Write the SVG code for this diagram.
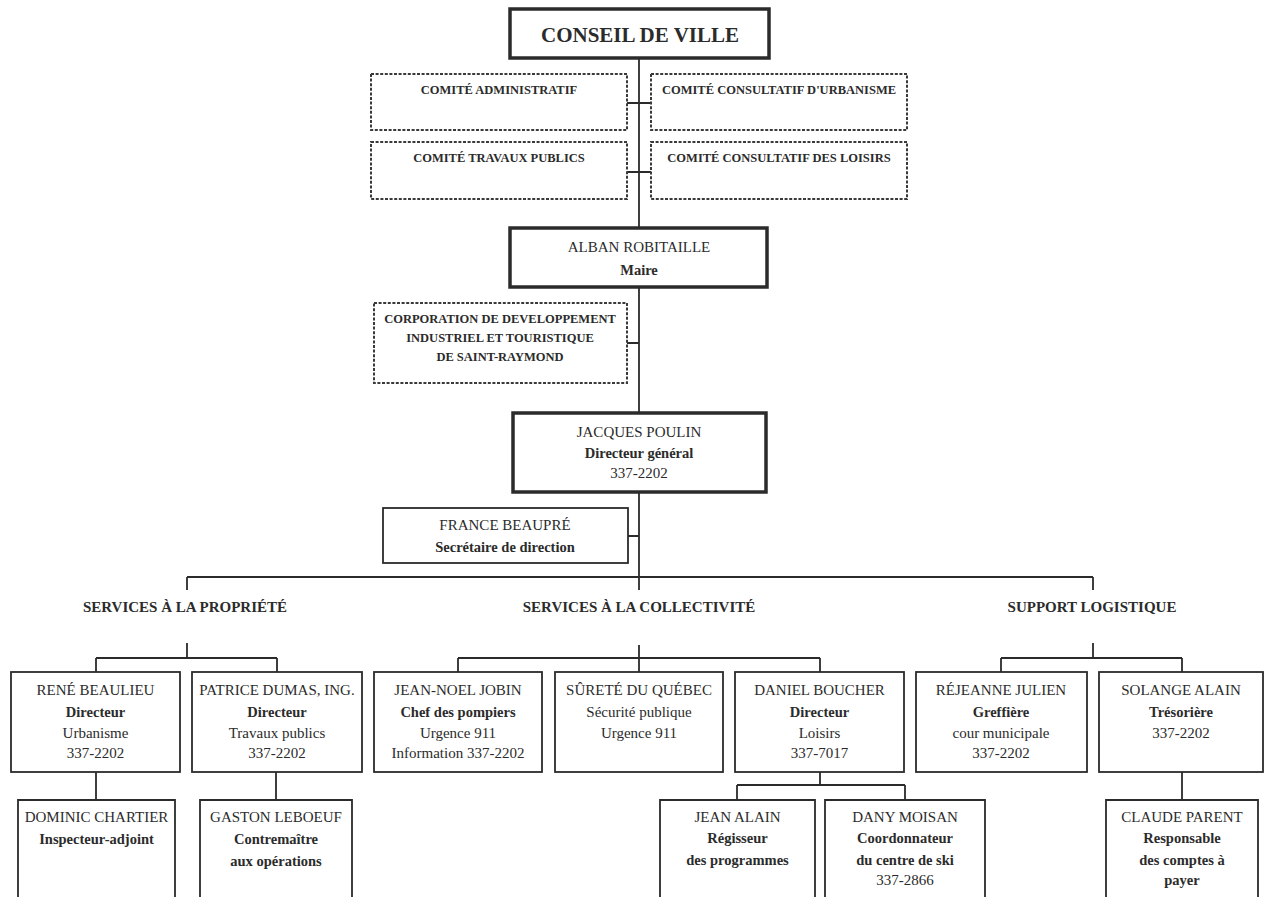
<svg xmlns="http://www.w3.org/2000/svg" width="1265" height="897" viewBox="0 0 1265 897">
<style>
.box{fill:#fff;stroke:#2b2b2b;stroke-width:1.8}
.thick{stroke-width:3.5}
.dash{stroke:#3a3a3a;stroke-width:2;stroke-dasharray:3 1.6}
.t{font-family:"Liberation Serif","Times New Roman",serif;font-size:15px;fill:#2b2b2b;text-anchor:middle}
.b{font-weight:bold;font-size:14.5px}
.c{font-weight:bold;font-size:12.5px}
.s{font-weight:bold;font-size:15px}
.conn path{fill:none;stroke:#2b2b2b;stroke-width:1.8}
</style>
<rect width="1265" height="897" fill="#fff"/>
<g id="connectors" class="conn">
<path d="M639 58V228M639 287V413M639 492V590"/>
<path d="M627 103H651M627 172H651M627 343H639M628 536H639"/>
<path d="M187 577H1093M187 577V590M1093 577V590"/>
<path d="M187 643V658M639 645V672M1093 643V658"/>
<path d="M96 658H277M96 658V672M277 658V672"/>
<path d="M458 658H820M458 658V672M820 658V672"/>
<path d="M1001 658H1182M1001 658V672M1182 658V672"/>
<path d="M96 772V800M276 772V800M1182 772V800"/>
<path d="M820 772V785M737 785H905M737 785V800M905 785V800"/>
</g>
<g id="conseil"><rect class="box thick" x="510" y="9" width="259" height="49"/><text class="t" x="640" y="42" style="font-weight:bold;font-size:21px">CONSEIL DE VILLE</text></g>
<g id="comite-admin"><rect class="box dash" x="371" y="74" width="256" height="56"/><text class="t c" x="499" y="94">COMITÉ ADMINISTRATIF</text></g>
<g id="comite-urbanisme"><rect class="box dash" x="651" y="74" width="256" height="56"/><text class="t c" x="779" y="94">COMITÉ CONSULTATIF D'URBANISME</text></g>
<g id="comite-travaux"><rect class="box dash" x="371" y="142" width="256" height="57"/><text class="t c" x="499" y="162">COMITÉ TRAVAUX PUBLICS</text></g>
<g id="comite-loisirs"><rect class="box dash" x="651" y="142" width="256" height="57"/><text class="t c" x="779" y="162">COMITÉ CONSULTATIF DES LOISIRS</text></g>
<g id="maire"><rect class="box thick" x="510" y="228" width="257" height="59"/><text class="t" x="639" y="252">ALBAN ROBITAILLE</text><text class="t b" x="639" y="275">Maire</text></g>
<g id="corporation"><rect class="box dash" x="374" y="303" width="253" height="80"/><text class="t c" x="500" y="323">CORPORATION DE DEVELOPPEMENT</text><text class="t c" x="500" y="342">INDUSTRIEL ET TOURISTIQUE</text><text class="t c" x="500" y="361">DE SAINT-RAYMOND</text></g>
<g id="directeur-general"><rect class="box thick" x="513" y="413" width="253" height="79"/><text class="t" x="639" y="437">JACQUES POULIN</text><text class="t b" x="639" y="458">Directeur général</text><text class="t" x="639" y="478">337-2202</text></g>
<g id="secretaire"><rect class="box" x="383" y="508" width="245" height="55"/><text class="t" x="505" y="530">FRANCE BEAUPRÉ</text><text class="t b" x="505" y="552">Secrétaire de direction</text></g>
<g id="services-propriete"><text class="t s" x="185" y="612">SERVICES À LA PROPRIÉTÉ</text></g>
<g id="services-collectivite"><text class="t s" x="639" y="612">SERVICES À LA COLLECTIVITÉ</text></g>
<g id="support-logistique"><text class="t s" x="1092" y="612">SUPPORT LOGISTIQUE</text></g>
<g id="rene-beaulieu"><rect class="box" x="11" y="672" width="169" height="100"/><text class="t" x="95.5" y="695">RENÉ BEAULIEU</text><text class="t b" x="95.5" y="717">Directeur</text><text class="t" x="95.5" y="738">Urbanisme</text><text class="t" x="95.5" y="758">337-2202</text></g>
<g id="patrice-dumas"><rect class="box" x="192" y="672" width="170" height="100"/><text class="t" x="277" y="695">PATRICE DUMAS, ING.</text><text class="t b" x="277" y="717">Directeur</text><text class="t" x="277" y="738">Travaux publics</text><text class="t" x="277" y="758">337-2202</text></g>
<g id="jean-noel-jobin"><rect class="box" x="374" y="672" width="168" height="100"/><text class="t" x="458" y="695">JEAN-NOEL JOBIN</text><text class="t b" x="458" y="717">Chef des pompiers</text><text class="t" x="458" y="738">Urgence 911</text><text class="t" x="458" y="758">Information 337-2202</text></g>
<g id="surete-quebec"><rect class="box" x="555" y="672" width="168" height="100"/><text class="t" x="639" y="695">SÛRETÉ DU QUÉBEC</text><text class="t" x="639" y="717">Sécurité publique</text><text class="t" x="639" y="738">Urgence 911</text></g>
<g id="daniel-boucher"><rect class="box" x="735" y="672" width="169" height="100"/><text class="t" x="819.5" y="695">DANIEL BOUCHER</text><text class="t b" x="819.5" y="717">Directeur</text><text class="t" x="819.5" y="738">Loisirs</text><text class="t" x="819.5" y="758">337-7017</text></g>
<g id="rejeanne-julien"><rect class="box" x="916" y="672" width="171" height="100"/><text class="t" x="1001" y="695">RÉJEANNE JULIEN</text><text class="t b" x="1001" y="717">Greffière</text><text class="t" x="1001" y="738">cour municipale</text><text class="t" x="1001" y="758">337-2202</text></g>
<g id="solange-alain"><rect class="box" x="1099" y="672" width="164" height="100"/><text class="t" x="1181" y="695">SOLANGE ALAIN</text><text class="t b" x="1181" y="717">Trésorière</text><text class="t" x="1181" y="738">337-2202</text></g>
<g id="dominic-chartier"><path class="box" d="M18 898V800H175V898"/><text class="t" x="96.5" y="822">DOMINIC CHARTIER</text><text class="t b" x="96.5" y="844">Inspecteur-adjoint</text></g>
<g id="gaston-leboeuf"><path class="box" d="M200 898V800H352V898"/><text class="t" x="276" y="822">GASTON LEBOEUF</text><text class="t b" x="276" y="844">Contremaître</text><text class="t b" x="276" y="866">aux opérations</text></g>
<g id="jean-alain"><path class="box" d="M660 898V800H815V898"/><text class="t" x="737.5" y="822">JEAN ALAIN</text><text class="t b" x="737.5" y="843">Régisseur</text><text class="t b" x="737.5" y="865">des programmes</text></g>
<g id="dany-moisan"><path class="box" d="M825 898V800H985V898"/><text class="t" x="905" y="822">DANY MOISAN</text><text class="t b" x="905" y="843">Coordonnateur</text><text class="t b" x="905" y="865">du centre de ski</text><text class="t" x="905" y="885">337-2866</text></g>
<g id="claude-parent"><path class="box" d="M1106 898V800H1258V898"/><text class="t" x="1182" y="822">CLAUDE PARENT</text><text class="t b" x="1182" y="843">Responsable</text><text class="t b" x="1182" y="865">des comptes à</text><text class="t b" x="1182" y="885">payer</text></g>
</svg>
